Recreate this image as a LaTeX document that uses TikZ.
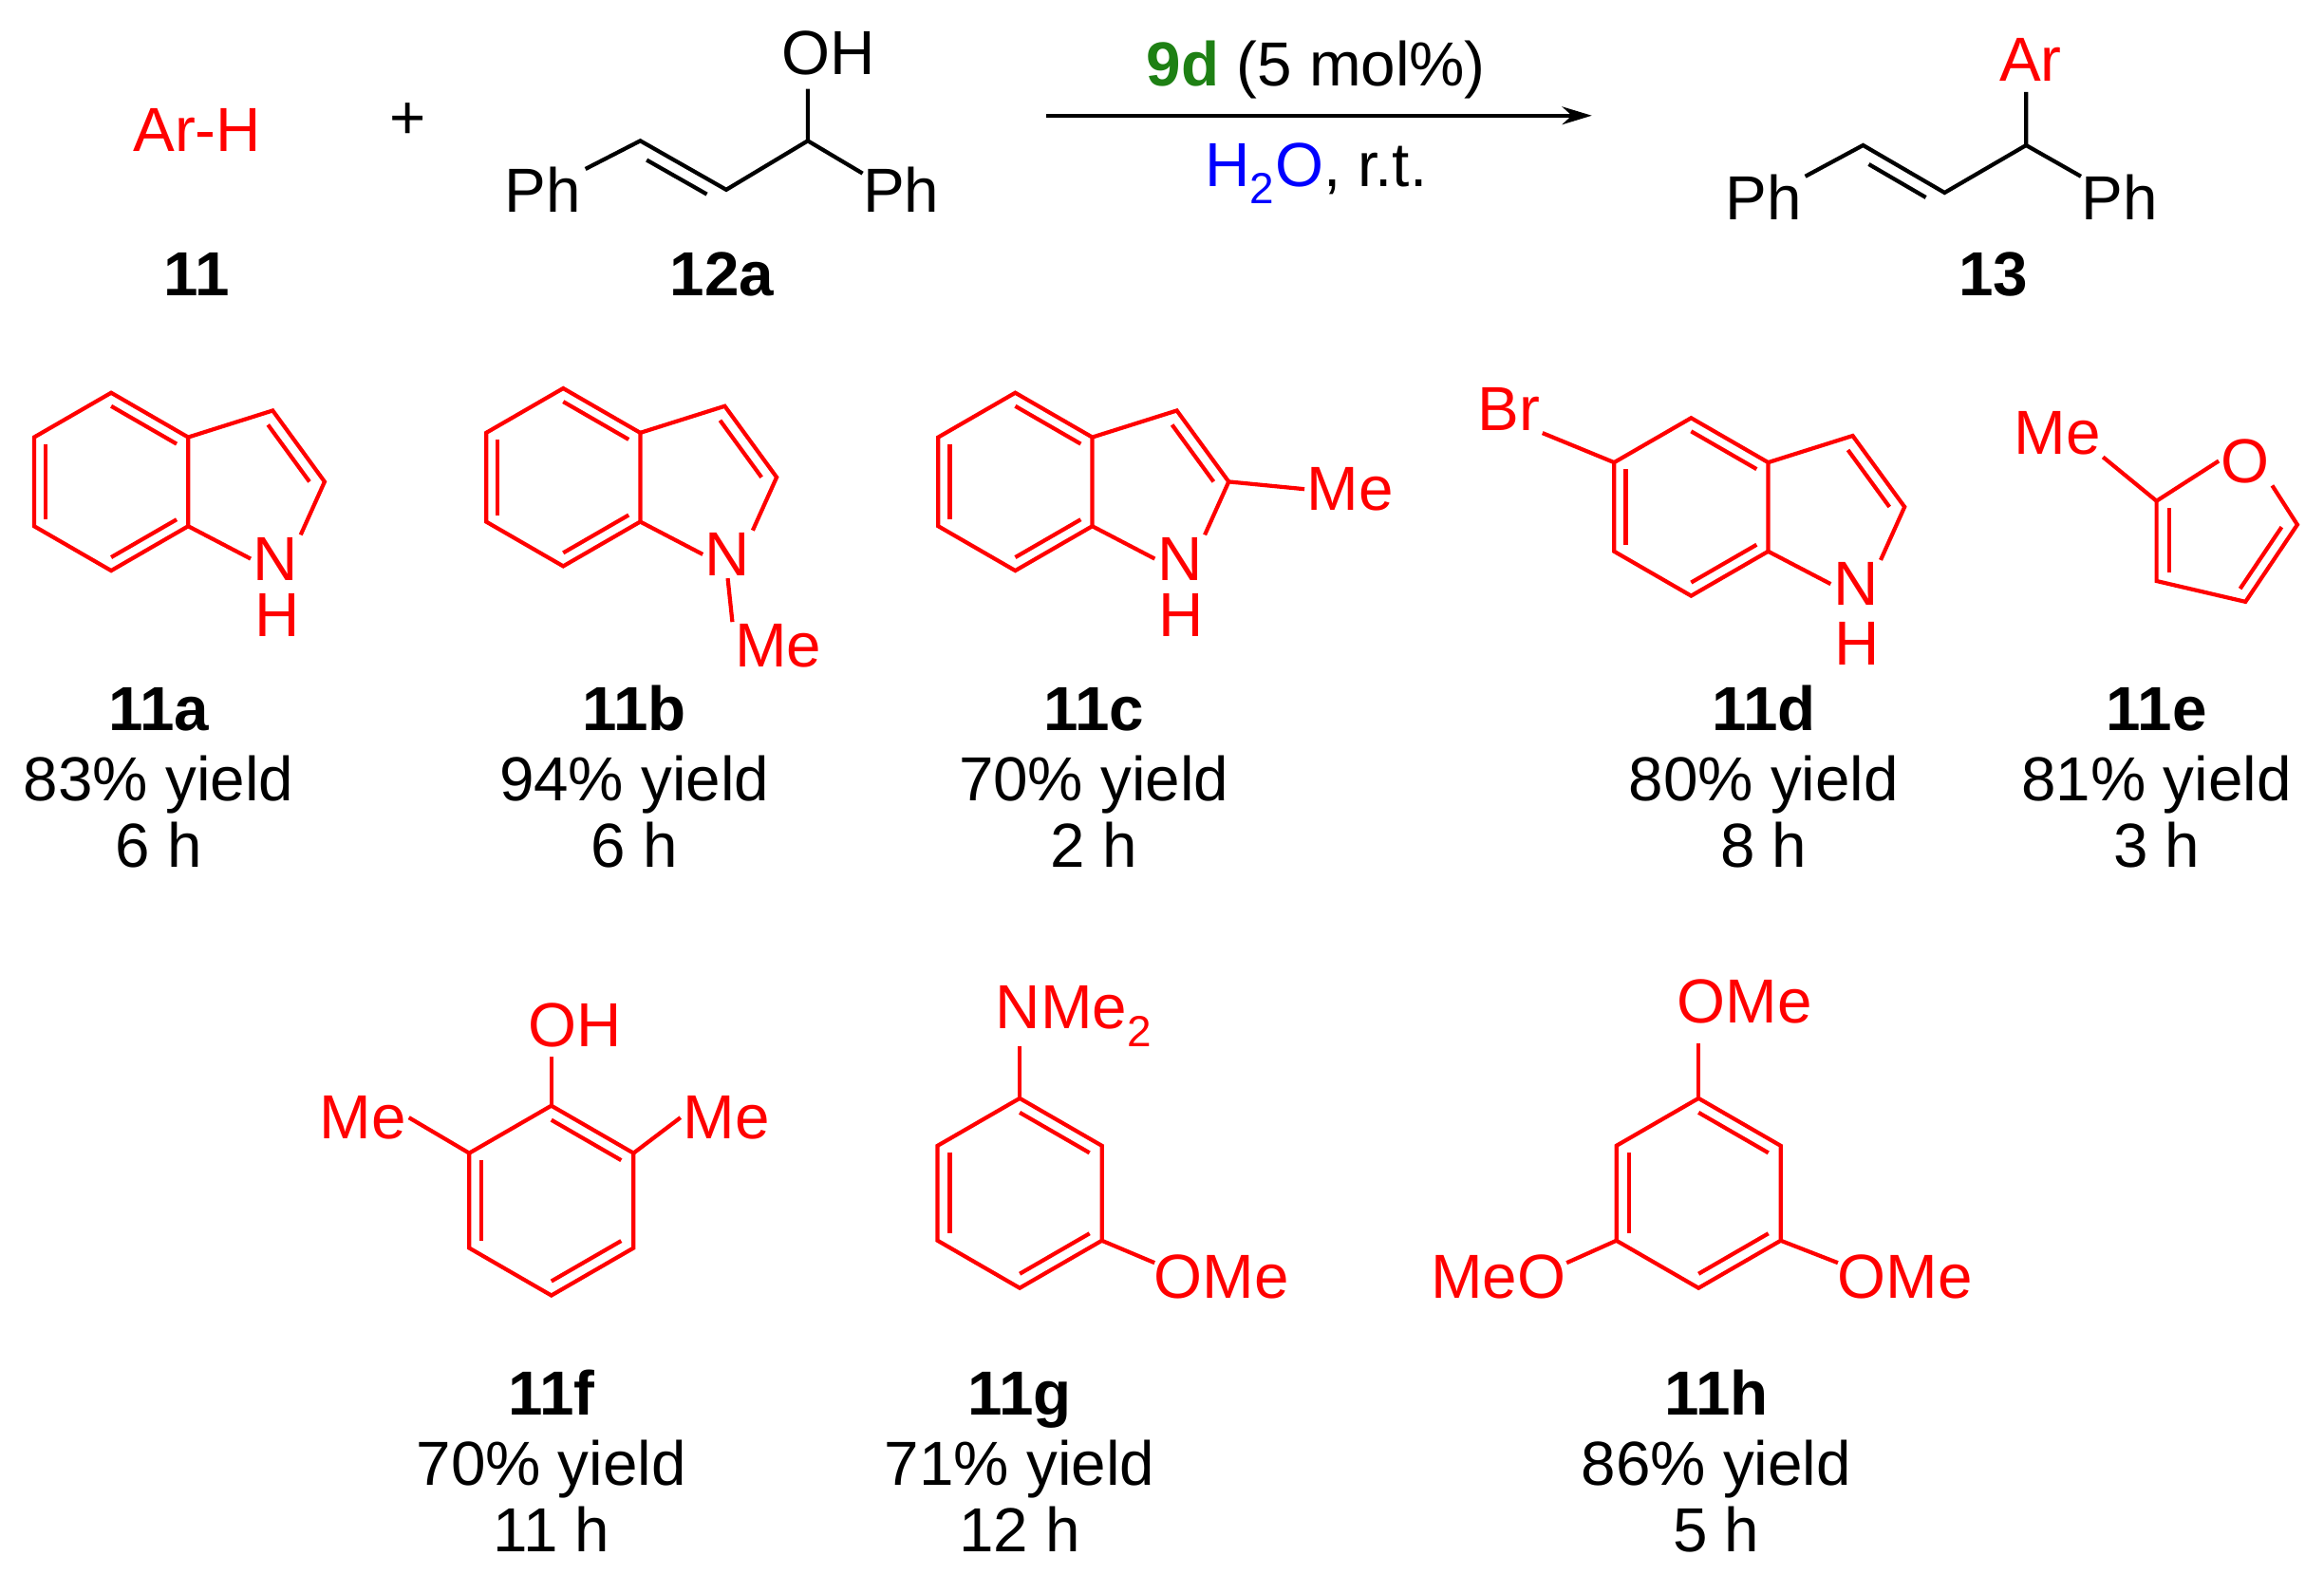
\documentclass[tikz,border=0pt]{standalone}
\usepackage{fontspec}
\setmainfont{Liberation Sans}
\usetikzlibrary{calc,arrows.meta}
\definecolor{rgreen}{RGB}{30,128,20}
\newcommand\fsz{\fontsize{42}{46}\selectfont}
\tikzset{
  bond/.style={red,line width=2.7pt,line join=miter},
  kbond/.style={black,line width=2.7pt},
  atom/.style={font=\fsz,text=red,inner sep=1.5pt},
  blab/.style={font=\fsz,text=black,inner sep=0pt},
  lbl/.style={font=\fsz\bfseries,text=black,inner sep=0pt},
}
\newcommand\inner[4][0.15]{\draw[bond] ($(#2)!#1!(#4)$) -- ($(#3)!#1!(#4)$);}
\newcommand\hexring[4]{%
  \coordinate (#1c) at (#2,#3);
  \coordinate (#11) at (#2,#3-#4);
  \coordinate (#12) at ({#2-0.866*#4},{#3-0.5*#4});
  \coordinate (#13) at ({#2-0.866*#4},{#3+0.5*#4});
  \coordinate (#14) at (#2,#3+#4);
  \coordinate (#15) at ({#2+0.866*#4},{#3+0.5*#4});
  \coordinate (#16) at ({#2+0.866*#4},{#3-0.5*#4});
  \draw[bond] (#11)--(#12)--(#13)--(#14)--(#15)--(#16)--cycle;
  \inner{#12}{#13}{#1c}\inner{#11}{#16}{#1c}\inner{#14}{#15}{#1c}}
\newcommand\indole[3]{%
  \hexring{#1}{#2}{#3}{60}
  \coordinate (#1p) at (#2+93,#3);
  \coordinate (#17) at (#2+109,#3-48);
  \coordinate (#18) at (#2+144,#3);
  \node[atom] (#1N) at (#2+111,#3+52) {N};
  \draw[bond] (#16)--(#17)--(#18)--(#1N.north east);
  \draw[bond] (#15)--(#1N.west);
  \inner[0.2]{#17}{#18}{#1p}}
\begin{document}
\begin{tikzpicture}[x=1pt,y=-1pt]
\useasboundingbox (0,0) rectangle (1568,1062);
% ---------- top equation ----------
\node[atom] (arh) at (133,88) {Ar-H};
\node[blab] (plus) at (275,82) {+};
\node[blab] (pha) at (366,128) {Ph};
\coordinate (a1) at (432,95); \coordinate (a2) at (490,128); \coordinate (a3) at (545,95);
\node[blab,anchor=base west] (oh) at (527,50) {OH};
\node[blab] (phb) at (608,128) {Ph};
\draw[kbond] (395,114)--(a1)--(a2)--(a3)--(545,60);
\draw[kbond] (a3)--(582,117);
\draw[kbond] ($(a1)!0.15!(a2)+(-4.4,8)$)--($(a2)!0.15!(a1)+(-4.4,8)$);
\node[lbl] (l11) at (133,185) {11};
\node[lbl] (l12a) at (487,185) {12a};
\coordinate (arS) at (706,78); \coordinate (arE) at (1074,78);
\draw[kbond,-{Stealth[length=20pt,width=12pt]}] (arS)--(arE);
\node[blab] (cat) at (888,47) {\textcolor{rgreen}{\bfseries 9d} (5 mol\%)};
\node[blab] (solv) at (888,117) {\textcolor{blue}{H\textsubscript{2}O}, r.t.};
\node[blab] (phc) at (1190,133) {Ph};
\coordinate (b1) at (1257,98); \coordinate (b2) at (1312,130); \coordinate (b3) at (1367,98);
\node[atom] (ar) at (1370,40) {Ar};
\node[blab] (phd) at (1430,133) {Ph};
\draw[kbond] (1218,119)--(b1)--(b2)--(b3)--(1367,62);
\draw[kbond] (b3)--(1404,119);
\draw[kbond] ($(b1)!0.15!(b2)+(-4.4,8)$)--($(b2)!0.15!(b1)+(-4.4,8)$);
\node[lbl] (l13) at (1345,185) {13};
% ---------- 11a ----------
\indole{A}{75}{325}
\node[atom] (AH) at (187,415) {H};
% ---------- 11b ----------
\indole{B}{380}{322}
\node[atom] (BMe) at (525,436) {Me};
\draw[bond] (BN.south)--(BMe.north west);
% ---------- 11c ----------
\indole{C}{685}{325}
\node[atom] (CH) at (797,415) {H};
\node[atom] (CMe) at (911,330) {Me};
\draw[bond] (C8)--(CMe.west);
% ---------- 11d ----------
\indole{D}{1141}{342}
\node[atom] (DH) at (1253,434) {H};
\node[atom] (DBr) at (1018,276) {Br};
\draw[bond] (D2)--(DBr.south east);
% ---------- 11e ----------
\coordinate (e2) at (1455,338); \coordinate (e3) at (1455,392);
\coordinate (e4) at (1515,406); \coordinate (e5) at (1550,354);
\coordinate (ec) at (1497,362);
\node[atom] (eO) at (1515,311) {O};
\node[atom] (eMe) at (1388,292) {Me};
\draw[bond] (eMe.south east)--(e2)--(eO.west);
\draw[bond] (eO.south east)--(e5)--(e4)--(e3)--(e2);
\inner[0.2]{e5}{e4}{ec}\inner[0.2]{e3}{e2}{ec}
% ---------- 11f ----------
\hexring{F}{372}{810}{64}
\node[atom] (FOH) at (388,692) {OH};
\node[atom] (FMe1) at (245,754) {Me};
\node[atom] (FMe2) at (490,754) {Me};
\draw[bond] (F1)--(372,713);
\draw[bond] (F2)--(FMe1.east);
\draw[bond] (F6)--(FMe2.west);
% ---------- 11g ----------
\hexring{G}{688}{805}{64}
\node[atom,anchor=base west] (GN) at (670,694) {NMe\textsubscript{2}};
\draw[bond] (G1)--(688,706);
\node[atom,anchor=base west] (GO) at (777,876) {OMe};
\draw[bond] (G5)--(779,852);
% ---------- 11h ----------
\hexring{H}{1146}{805}{64}
\node[atom,anchor=base west] (HO1) at (1130,690) {OMe};
\draw[bond] (H1)--(1146,704);
\node[atom,anchor=base east] (HO2) at (1058,876) {MeO};
\draw[bond] (H3)--(1057,852);
\node[atom,anchor=base west] (HO3) at (1238,876) {OMe};
\draw[bond] (H5)--(1240,852);
% ---------- labels ----------
\foreach \n/\x/\yl/\t/\yy in {a/107/83/6/493, b/428/94/6/493, c/738/70/2/493, d/1190/80/8/493, e/1455/81/3/493,
  f/372/70/11/955, g/688/71/12/955, h/1158/86/5/955}{
  \node[lbl,anchor=base] (n\n) at (\x,\yy) {11\n};
  \node[blab,anchor=base] (y\n) at (\x,\yy+47) {\yl\% yield};
  \node[blab,anchor=base] (t\n) at (\x,\yy+92) {\t\ h};
}
\end{tikzpicture}
\end{document}
